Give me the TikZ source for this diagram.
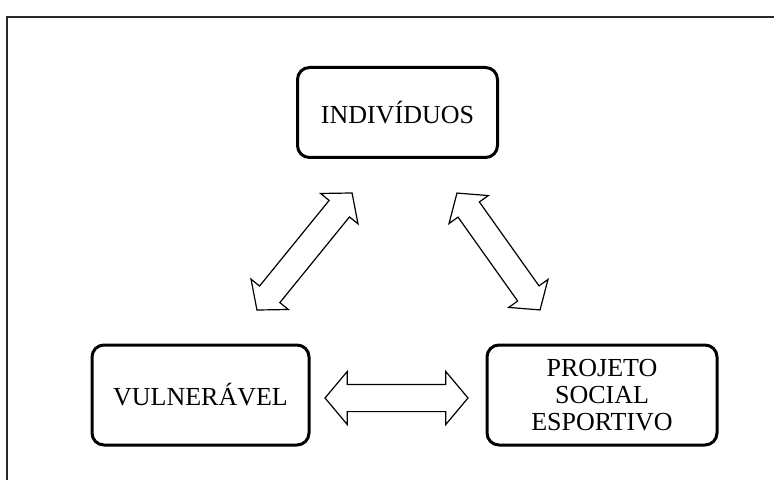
\documentclass[tikz,border=0pt]{standalone}
\usepackage{fontspec}
\setmainfont{Liberation Serif}
\usetikzlibrary{positioning,shapes.arrows}
\definecolor{ink}{HTML}{000000}
\definecolor{frame}{HTML}{2A2A2A}

\begin{document}
\begin{tikzpicture}[x=0.5pt,y=-0.5pt, every node/.style={font=\fontsize{13}{13.5}\selectfont},
  box/.style={draw=ink, line width=1.5pt, rounded corners=6pt, align=center, inner sep=0pt},
  dblarrow/.style={draw=ink, line width=0.6pt, fill=white, shape=double arrow, inner xsep=0pt,
                   double arrow tip angle=100},
]
  \useasboundingbox (0,0) rectangle (774,480);
  % Outer frame (cut at right and bottom)
  \draw[frame, line width=1pt] (6.5,480) -- (6.5,17) -- (774,17);

  % Boxes
  \node[box, minimum width=100pt, minimum height=45pt] (ind) at (397.5,112.5) {INDIVÍDUOS};
  \node[box, minimum width=108.5pt, minimum height=50pt] (vul) at (200.5,395) {VULNERÁVEL};
  \node[box, minimum width=115pt, minimum height=50pt] (proj) at (602,395) {PROJETO\\SOCIAL\\ESPORTIVO};

  % Double arrows between the boxes
  \node[dblarrow, minimum height=75.4pt, inner ysep=6.25pt, double arrow head extend=5.5pt,
        rotate=50.9] (vulind) at (304.5,251.5) {};
  \node[dblarrow, minimum height=71.7pt, inner ysep=6.25pt, double arrow head extend=5.5pt,
        rotate=-54.6] (indproj) at (498.5,251.5) {};
  \node[dblarrow, minimum height=71.5pt, inner ysep=6.5pt, double arrow head extend=6.5pt]
        (vulproj) at (396.5,398) {};
\end{tikzpicture}
\end{document}
